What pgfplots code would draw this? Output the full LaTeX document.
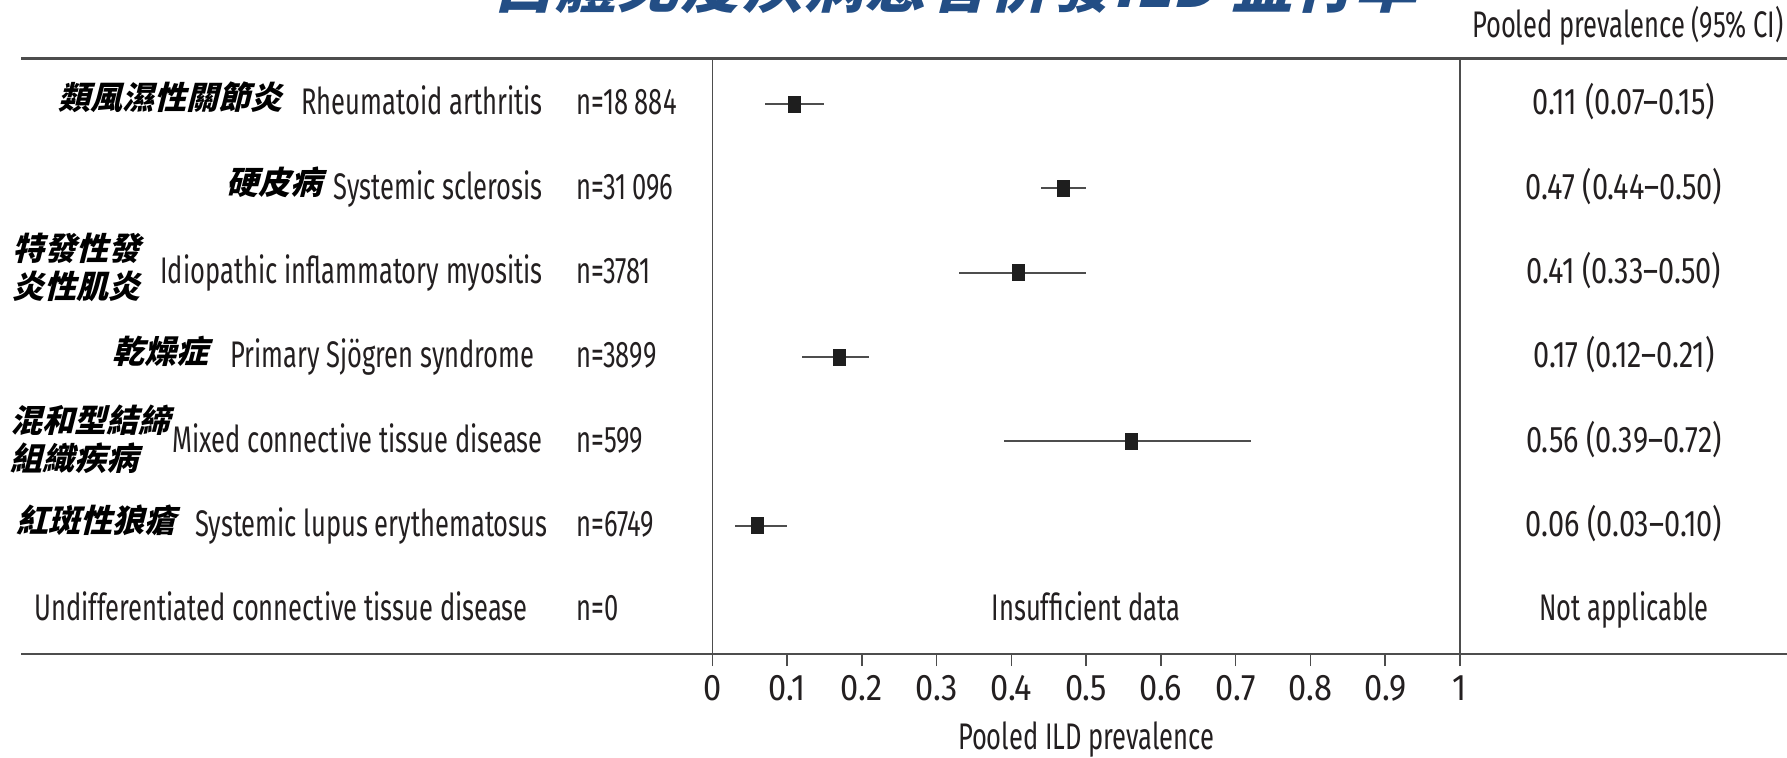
\documentclass[border=0pt]{standalone}
\usepackage{pgfplots}
\pgfplotsset{compat=1.18}
\usepackage{fontspec}
\setmainfont{Fira Sans}[FakeStretch=0.69]
\newfontfamily\numfont{Fira Sans}[FakeStretch=0.78]
\newfontfamily\tickfont{Fira Sans}[FakeStretch=0.88]
\newfontfamily\cjk{Noto Sans CJK TC}[FakeSlant=0.25, BoldFeatures={FakeSlant=0.25}]
\definecolor{titleblue}{HTML}{234E85}
\definecolor{txt}{HTML}{231F20}
\definecolor{rulec}{HTML}{4D4D4D}
\definecolor{markc}{HTML}{1E1E1E}
\newcommand\myfs{\fontsize{18.5}{21}\selectfont}
\newcommand\mynum{\numfont\fontsize{18.5}{21}\selectfont}
\newcommand\mytick{\tickfont\fontsize{18.5}{21}\selectfont}
\newcommand\mycj{\cjk\bfseries\fontsize{16}{18}\selectfont}
\begin{document}
\begin{tikzpicture}
\useasboundingbox (0pt,0pt) rectangle (893.5pt,379pt);
\begin{axis}[
  at={(356.15pt,52pt)}, anchor=south west,
  scale only axis, width=373.85pt, height=297.5pt,
  xmin=0, xmax=1, ymin=0.466, ymax=7.522, y dir=reverse,
  axis x line*=bottom, axis y line=none,
  x axis line style={-, draw=rulec, line width=1pt},
  xtick={0,0.1,0.2,0.3,0.4,0.5,0.6,0.7,0.8,0.9,1},
  xticklabels={0,0.1,0.2,0.3,0.4,0.5,0.6,0.7,0.8,0.9,1},
  tick align=outside, major tick length=6pt,
  x tick style={draw=rulec, line width=0.75pt},
  xticklabel style={font=\mytick, text=txt, anchor=base, yshift=-17pt},
  xlabel={Pooled ILD prevalence},
  xlabel style={font=\myfs, text=txt, at={(axis description cs:0.5,0)}, anchor=base, yshift=-47.5pt},
  clip=false,
]
\draw[rulec, line width=0.75pt] (axis cs:0,0.466) -- (axis cs:0,7.522);
\draw[rulec, line width=0.75pt] (axis cs:1,0.466) -- (axis cs:1,7.522);
\addplot+[only marks, mark=square*, mark size=4pt,
  mark options={xscale=0.75, fill=markc, draw=markc},
  error bars/.cd, x dir=both, x explicit,
  error mark=none, error bar style={line width=1pt, color=rulec}]
coordinates {
 (0.11,1) += (0.04,0) -= (0.04,0)
 (0.47,2) += (0.03,0) -= (0.03,0)
 (0.41,3) += (0.09,0) -= (0.08,0)
 (0.17,4) += (0.04,0) -= (0.05,0)
 (0.56,5) += (0.16,0) -= (0.17,0)
 (0.06,6) += (0.04,0) -= (0.03,0)
};
\end{axis}
\begin{scope}
\clip (0pt,0pt) rectangle (893.5pt,379pt);
\node[anchor=base, font=\cjk\bfseries\fontsize{31}{31}\selectfont, text=titleblue, inner sep=0pt] at (477.5pt,375pt) {自體免疫疾病患者併發ILD 盛行率};
\end{scope}
\begin{scope}[shift={(0pt,379pt)}, x=0.5pt, y=-0.5pt]
\draw[rulec, line width=1.5pt] (21,59) -- (1787,59);
\draw[rulec, line width=1pt] (21,654) -- (1787,654);
\node[anchor=base east, font=\myfs, text=txt, inner sep=0pt] at (1784,38) {Pooled prevalence (95\% CI)};
\begin{scope}[every node/.style={font=\myfs, text=txt, inner sep=0pt}]
\node[anchor=base east] at (543,115) {Rheumatoid arthritis};
\node[anchor=base east] at (543,199.3) {Systemic sclerosis};
\node[anchor=base east] at (543,283.7) {Idiopathic inflammatory myositis};
\node[anchor=base east] at (535,368) {Primary Sjögren syndrome};
\node[anchor=base east] at (543,452.3) {Mixed connective tissue disease};
\node[anchor=base east] at (548,536.7) {Systemic lupus erythematosus};
\node[anchor=base east] at (528,621) {Undifferentiated connective tissue disease};
\node[anchor=base west] at (576,115) {n=18\,884};
\node[anchor=base west] at (576,199.3) {n=31\,096};
\node[anchor=base west] at (576,283.7) {n=3781};
\node[anchor=base west] at (576,368) {n=3899};
\node[anchor=base west] at (576,452.3) {n=599};
\node[anchor=base west] at (576,536.7) {n=6749};
\node[anchor=base west] at (576,621) {n=0};
\node[anchor=base, font=\mynum] at (1624,115) {0.11 (0.07–0.15)};
\node[anchor=base, font=\mynum] at (1624,199.3) {0.47 (0.44–0.50)};
\node[anchor=base, font=\mynum] at (1624,283.7) {0.41 (0.33–0.50)};
\node[anchor=base, font=\mynum] at (1624,368) {0.17 (0.12–0.21)};
\node[anchor=base, font=\mynum] at (1624,452.3) {0.56 (0.39–0.72)};
\node[anchor=base, font=\mynum] at (1624,536.7) {0.06 (0.03–0.10)};
\node[anchor=base] at (1624,621) {Not applicable};
\node[anchor=base] at (1086,621) {Insufficient data};
\end{scope}
\begin{scope}[every node/.style={font=\mycj, text=black, inner sep=0pt}]
\node[anchor=base east] at (283,110) {類風濕性關節炎};
\node[anchor=base east] at (323,195) {硬皮病};
\node[anchor=base west] at (12,261) {特發性發};
\node[anchor=base west] at (12,299) {炎性肌炎};
\node[anchor=base east] at (209,364) {乾燥症};
\node[anchor=base west] at (10,433) {混和型結締};
\node[anchor=base west] at (10,471) {組織疾病};
\node[anchor=base east] at (177,533) {紅斑性狼瘡};
\end{scope}
\end{scope}
\end{tikzpicture}
\end{document}
